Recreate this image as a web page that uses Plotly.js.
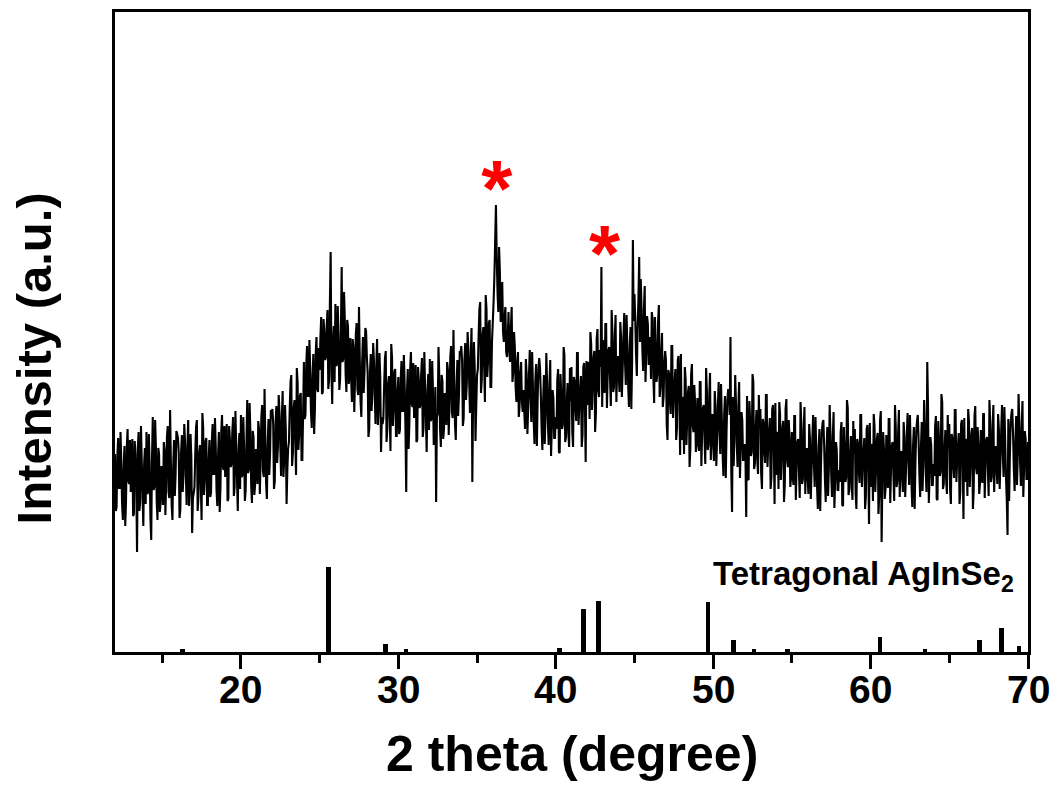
<!DOCTYPE html>
<html>
<head>
<meta charset="utf-8">
<script src="https://cdn.plot.ly/plotly-3.0.1.min.js"></script>
<style>html,body{margin:0;padding:0;background:#fff;}#chart{width:1053px;height:793px;}</style>
</head>
<body>
<div id="chart"></div>
<script>
// XRD pattern read in two interleaved sets:
// set A at 12.00, 12.10, ... 70.00 ; set B at 12.05, 12.15, ... 69.95
var xrdStart = 12.0;
var xrdStep = 0.05;
var xrdIntensityA = [
198,145,214,164,191,132,206,151,223,168,
160,213,138,198,100,220,150,190,126,204,
220,160,188,112,235,165,204,132,198,150,
172,210,137,215,160,242,147,187,156,221,
214,134,200,160,228,178,205,146,218,119,
159,199,232,154,207,132,225,173,214,147,
212,159,228,178,205,146,220,165,237,182,
175,228,153,213,188,235,165,205,141,219,
237,177,205,161,252,182,221,149,215,167,
193,231,158,236,181,263,168,208,177,242,
243,163,229,189,257,207,234,175,247,148,
204,244,277,199,252,177,270,218,259,192,
290,237,306,256,283,224,298,243,315,260,
282,335,260,320,295,342,272,400,248,326,
348,288,316,272,385,293,332,260,326,278,
275,313,240,318,263,345,250,290,259,324,
295,215,281,241,309,259,286,227,299,200,
228,268,301,223,276,201,294,242,283,216,
275,222,291,241,268,160,283,228,300,245,
234,287,212,272,247,294,224,264,200,278,
293,233,261,217,150,238,277,205,271,223,
252,290,217,295,240,322,227,267,236,301,
306,226,292,252,320,270,297,170,310,211,
277,317,350,272,325,250,343,291,332,265,
330,375,447,360,405,330,370,310,345,295,
340,290,345,280,305,250,300,245,290,240,
240,293,218,278,253,300,230,270,206,284,
284,224,252,208,299,229,268,196,262,214,
235,273,200,278,223,305,210,250,219,284,
285,205,271,231,299,249,276,217,289,190,
247,287,320,242,295,220,313,261,302,385,
312,259,328,278,305,246,320,265,337,282,
277,330,255,315,290,337,267,307,243,412,
358,298,326,395,373,303,342,270,336,288,
315,340,275,335,270,330,255,300,245,290,
292,212,278,238,306,256,283,224,296,197,
212,252,285,207,260,185,278,226,267,200,
254,201,270,220,247,188,262,207,279,224,
208,261,186,246,221,268,198,238,174,252,
262,315,140,186,277,207,246,174,240,192,
208,135,173,251,196,278,183,223,192,257,
243,163,229,189,257,207,234,175,247,148,
177,217,250,172,225,150,243,191,232,165,
220,167,236,186,213,154,228,173,245,190,
175,228,153,213,188,235,165,205,141,219,
232,172,200,156,247,177,216,144,210,162,
182,220,147,225,170,252,157,197,166,231,
223,143,209,169,237,187,214,155,227,128,
165,205,238,160,213,138,231,110,220,153,
217,164,233,183,210,151,225,170,242,187,
177,230,155,215,190,237,167,207,143,221,
237,177,205,161,252,182,290,149,215,167,
188,226,153,231,176,258,163,203,172,237,
228,148,214,174,242,192,219,160,232,133,
170,210,243,165,218,143,236,184,225,158,
222,169,238,188,215,156,230,175,247,192,
185,238,163,223,198,245,175,117,151,229,
243,183,211,167,258,188,227,155,221,173,
210
];
var xrdIntensityB = [
141,196,164,220,148,184,126,206,171,212,
193,136,211,170,204,141,226,158,188,148,
158,218,134,192,162,232,150,204,140,186,
147,202,170,226,154,190,132,212,177,218,
199,142,217,176,210,147,232,164,194,154,
165,225,141,199,169,239,157,211,147,193,
155,210,178,234,162,198,140,220,185,226,
208,151,226,185,219,156,241,173,203,163,
175,235,151,209,179,249,167,221,157,203,
168,223,191,247,175,211,153,233,198,239,
228,171,246,205,239,176,261,193,223,183,
210,270,186,244,214,284,202,256,192,238,
233,288,256,312,240,276,218,298,263,304,
315,258,333,292,326,263,348,280,310,270,
286,346,262,320,290,360,278,332,268,314,
250,305,273,329,257,293,235,315,280,321,
280,223,298,257,291,228,313,245,275,235,
234,294,210,268,238,308,226,280,216,262,
218,273,241,297,225,261,203,283,248,289,
267,210,285,244,278,215,300,232,262,222,
231,291,207,265,235,305,223,277,213,259,
227,282,250,306,234,270,212,292,257,298,
291,234,309,268,302,239,324,256,286,246,
283,343,259,317,287,357,275,329,265,311,
350,410,395,340,380,355,320,335,300,315,
300,325,270,320,265,290,235,280,250,262,
223,278,246,302,230,266,208,288,253,294,
259,202,277,236,270,207,292,224,254,214,
223,283,199,257,227,297,215,269,205,251,
220,275,243,299,227,263,205,285,250,291,
290,233,308,267,301,238,323,255,285,245,
268,328,244,302,272,342,260,314,250,296,
260,315,283,339,267,303,245,325,290,331,
333,276,351,310,344,281,366,298,328,288,
273,333,249,307,277,347,265,319,255,301,
227,282,250,306,234,270,212,292,257,298,
255,198,273,232,266,203,288,220,250,210,
210,270,186,244,214,284,202,256,192,238,
191,246,214,270,198,234,176,256,221,262,
237,180,255,214,248,185,270,202,232,192,
196,256,172,230,200,270,188,242,178,224,
178,233,201,257,185,221,163,243,208,249,
220,163,238,197,231,168,253,185,215,175,
176,236,152,210,180,250,168,222,158,204,
158,213,181,237,165,201,143,223,188,229,
207,150,225,184,218,155,240,172,202,162,
170,230,146,204,174,244,162,216,152,198,
158,213,181,237,165,201,143,223,188,229,
208,151,226,185,219,156,241,173,203,163,
173,233,149,207,177,247,165,219,155,201,
160,215,183,239,167,203,145,225,190,231,
212,155,230,189,223,160,245,177,207,167,
176,236,152,210,180,250,168,222,158,204,
163,218,186,242,170,206,148,228,193,234,
213,156,231,190,224,161,246,178,208,168,
178,238,154,212,182,252,170,224,160,206,
168,223,191,247,175,211,153,233,198,239,
218,161,236,195,229,166,251,183,213,173
];

// Reference pattern: tetragonal AgInSe2 stick positions and relative heights
var refPos = [16.3, 25.57, 29.2, 30.48, 40.25, 41.74, 42.71, 49.67, 51.28, 52.59, 54.71, 60.59, 63.45, 66.94, 68.3, 69.42];
var refHeight = [3, 85, 8, 3, 4, 43, 51, 50, 12, 3, 3, 15, 3, 12, 24, 6];

// Marked peaks (red asterisks)
var markX = [36.25, 43.1];
var markY = [456, 391];

var xTicks = [20, 30, 40, 50, 60, 70];

var FONT = 'Liberation Sans, Arial, sans-serif';

// merge the two read sets in 2theta order
var xrdIntensity = [];
for (var i = 0; i < xrdIntensityA.length; i++) {
  xrdIntensity.push(xrdIntensityA[i]);
  if (i < xrdIntensityB.length) xrdIntensity.push(xrdIntensityB[i]);
}

var traces = [
  {
    type: 'bar', x: refPos, y: refHeight, width: 0.3,
    marker: {color: '#000', line: {width: 0}},
    hoverinfo: 'skip', showlegend: false
  },
  {
    type: 'scatter', mode: 'lines', x0: xrdStart, dx: xrdStep, y: xrdIntensity,
    line: {color: '#000', width: 2.1, simplify: false},
    hoverinfo: 'skip', showlegend: false
  },
  {
    type: 'scatter', mode: 'text', x: markX, y: markY,
    text: markX.map(function(){return '*';}),
    textposition: 'middle center',
    textfont: {family: FONT, size: 80, color: '#ff0000', weight: 'bold'},
    hoverinfo: 'skip', showlegend: false, cliponaxis: false
  }
];

var annotations = xTicks.map(function (v) {
  return {
    xref: 'x', yref: 'paper', x: v, y: -0.059, xanchor: 'center', yanchor: 'middle',
    text: String(v), showarrow: false,
    font: {family: FONT, size: 39, weight: 'bold', color: '#000'}
  };
});
annotations.push({
  xref: 'paper', yref: 'paper', x: 0.5, y: -0.159, xanchor: 'center', yanchor: 'middle',
  text: '2 theta (degree)', showarrow: false,
  font: {family: FONT, size: 50, weight: 'bold', color: '#000'}
});
annotations.push({
  xref: 'paper', yref: 'paper', x: -0.0885, y: 0.459, xanchor: 'center', yanchor: 'middle',
  text: 'Intensity (a.u.)', textangle: -90, showarrow: false,
  font: {family: FONT, size: 49, weight: 'bold', color: '#000'}
});
annotations.push({
  xref: 'paper', yref: 'paper', x: 0.987, y: 0.118, xanchor: 'right', yanchor: 'middle',
  text: 'Tetragonal AgInSe<sub>2</sub>', showarrow: false,
  font: {family: FONT, size: 33, weight: 'bold', color: '#000'}
});

var layout = {
  width: 1053, height: 793,
  margin: {l: 115, r: 25, t: 12, b: 141},
  paper_bgcolor: '#fff', plot_bgcolor: '#fff',
  showlegend: false,
  bargap: 0,
  font: {family: FONT, color: '#000'},
  xaxis: {
    range: [12, 70], autorange: false,
    tickvals: xTicks, showticklabels: false,
    ticks: 'outside', ticklen: 14, tickwidth: 3, tickcolor: '#000',
    minor: {dtick: 5, tick0: 0, ticks: 'outside', ticklen: 8, tickwidth: 3, tickcolor: '#000'},
    showline: true, linewidth: 3, linecolor: '#000', mirror: true,
    showgrid: false, zeroline: false
  },
  yaxis: {
    range: [0, 640], autorange: false,
    showticklabels: false, ticks: '',
    showline: true, linewidth: 3, linecolor: '#000', mirror: true,
    showgrid: false, zeroline: false
  },
  annotations: annotations
};

Plotly.newPlot('chart', traces, layout, {displayModeBar: false, staticPlot: true});
</script>
</body>
</html>
